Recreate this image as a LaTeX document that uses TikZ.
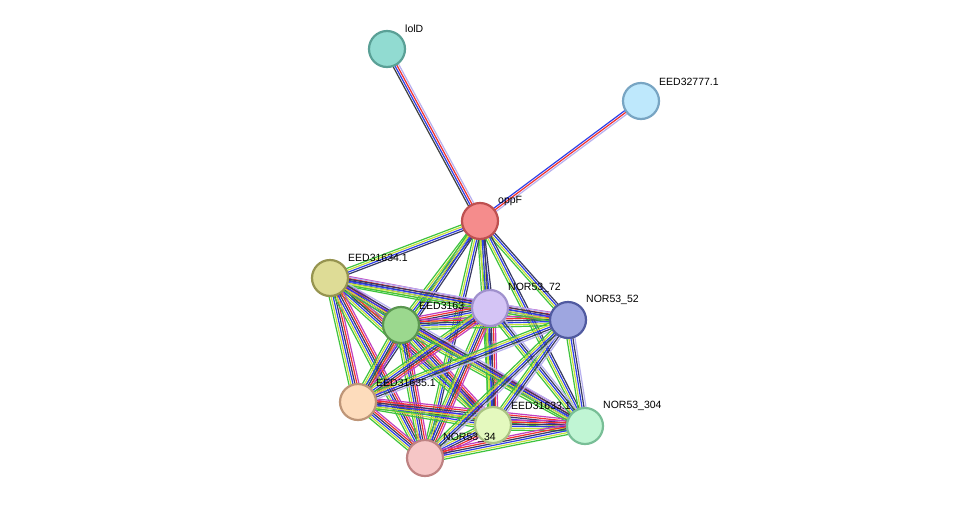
\documentclass[tikz,border=0pt]{standalone}
\usepackage{fontspec}
\setmainfont{Liberation Sans}
\usetikzlibrary{calc}
\definecolor{cg}{HTML}{3EC43E}\definecolor{cy}{HTML}{C6E03A}\definecolor{cb}{HTML}{2F3FE8}
\definecolor{cd}{HTML}{3A3A60}\definecolor{cr}{HTML}{F03030}\definecolor{cl}{HTML}{B8B0F0}
\definecolor{ck}{HTML}{404040}\definecolor{cmag}{HTML}{C040C0}
\newcommand\sedge[4]{% a, b, start offset, colors
 \foreach \c [count=\i] in {#4}{%
  \pgfmathsetmacro\o{#3+(\i-1)*2}%
  \draw[line width=1.2pt,color=\c] ($(#1)!\o pt!90:(#2)$) -- ($(#2)!\o pt!-90:(#1)$);}}
\tikzset{pn/.style={circle,minimum size=36pt,inner sep=0,line width=2.2pt},
 lb/.style={anchor=south west,inner sep=0,font=\fontsize{10.5}{12}\selectfont}}
\begin{document}
\begin{tikzpicture}[x=1pt,y=-1pt]
\fill[white] (0,0) rectangle (975,504);
\coordinate (lolD) at (387,49);
\coordinate (e777) at (641,101);
\coordinate (oppF) at (480,221);
\coordinate (e634) at (330,278);
\coordinate (e63) at (401,325);
\coordinate (n72) at (490,308);
\coordinate (n52) at (568,320);
\coordinate (e635) at (358,402);
\coordinate (e633) at (493,425);
\coordinate (n304) at (585,426);
\coordinate (n34) at (425,458);
\sedge{lolD}{oppF}{-3}{ck,cb,cr,cl}
\sedge{e777}{oppF}{-2}{cb,cr,cl}
\foreach \b in {e634,e63,n72,n52,e635,e633,n304,n34}{\sedge{oppF}{\b}{-3}{cg,cy,cb,cd}}
\foreach \a/\b in {e634/e63,e634/n72,e634/e635,e634/e633,e634/n34,e63/n72,e63/e635,e63/e633,e63/n34,e63/n304,n72/n52,n72/e633,n72/n34,e635/e633,e635/n34,e635/n304,e633/n34,e633/n304,n34/n304,e63/n52,n72/e635}{\sedge{\a}{\b}{-5}{cg,cy,cb,cd,cr,cmag}}
\foreach \a/\b in {e634/n52,e634/n304,n72/n304,n52/e635,n52/e633,n52/n34,n52/n304}{\sedge{\a}{\b}{-4}{cg,cy,cb,cd,cl}}
\node[pn,fill={rgb,255:red,145;green,219;blue,209},draw={rgb,255:red,90;green,160;blue,150}] (nlolD) at (lolD) {};
\node[pn,fill={rgb,255:red,190;green,232;blue,252},draw={rgb,255:red,120;green,165;blue,195}] (ne777) at (e777) {};
\node[pn,fill={rgb,255:red,245;green,140;blue,140},draw={rgb,255:red,190;green,80;blue,80}] (noppF) at (oppF) {};
\node[pn,fill={rgb,255:red,222;green,220;blue,150},draw={rgb,255:red,150;green,148;blue,80}] (ne634) at (e634) {};
\node[pn,fill={rgb,255:red,155;green,216;blue,142},draw={rgb,255:red,90;green,150;blue,80}] (ne63) at (e63) {};
\node[pn,fill={rgb,255:red,212;green,196;blue,245},draw={rgb,255:red,160;green,145;blue,205}] (nn72) at (n72) {};
\node[pn,fill={rgb,255:red,158;green,166;blue,224},draw={rgb,255:red,80;green,90;blue,160}] (nn52) at (n52) {};
\node[pn,fill={rgb,255:red,253;green,220;blue,188},draw={rgb,255:red,190;green,150;blue,120}] (ne635) at (e635) {};
\node[pn,fill={rgb,255:red,228;green,249;blue,190},draw={rgb,255:red,170;green,195;blue,130}] (ne633) at (e633) {};
\node[pn,fill={rgb,255:red,192;green,245;blue,212},draw={rgb,255:red,120;green,190;blue,150}] (nn304) at (n304) {};
\node[pn,fill={rgb,255:red,246;green,198;blue,198},draw={rgb,255:red,190;green,130;blue,130}] (nn34) at (n34) {};
\node[lb] (llolD) at (405,33) {lolD};
\node[lb] (le777) at (659,86) {EED32777.1};
\node[lb] (loppF) at (498,206) {oppF};
\node[lb] (le634) at (348,262) {EED31634.1};
\node[lb] (le63) at (419,310) {EED3163};
\node[lb] (ln72) at (508,293) {NOR53\_72};
\node[lb] (ln52) at (586,305) {NOR53\_52};
\node[lb] (le635) at (376,387) {EED31635.1};
\node[lb] (le633) at (511,410) {EED31633.1};
\node[lb] (ln304) at (603,411) {NOR53\_304};
\node[lb] (ln34) at (443,443) {NOR53\_34};
\end{tikzpicture}
\end{document}
